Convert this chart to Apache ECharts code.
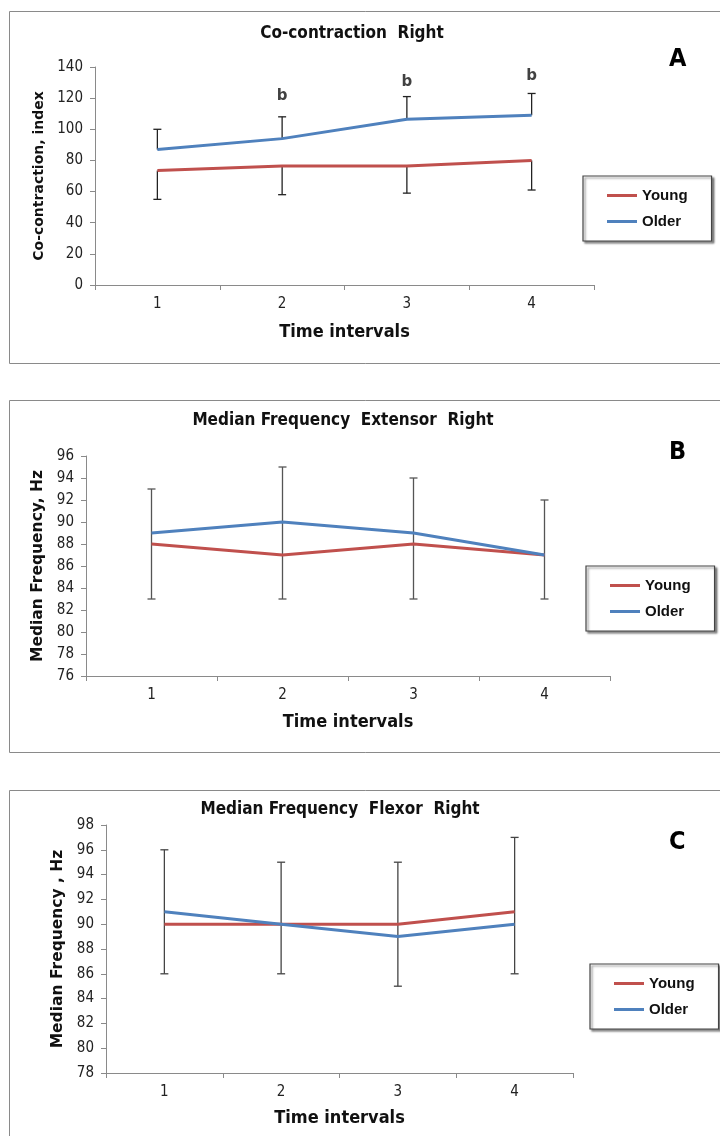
<!DOCTYPE html>
<html><head><meta charset="utf-8">
<script src="https://cdn.jsdelivr.net/npm/echarts@6/dist/echarts.min.js"></script>
<style>html,body{margin:0;padding:0;background:#fff}#c{width:720px;height:1136px}</style>
</head><body><div id="c"></div>
<script>
// ---------- data ----------
const categories = ['1', '2', '3', '4'];
const seriesNames = ['Young', 'Older'];
// Panel A: Co-contraction Right
const youngA = [73.5, 76.5, 76.5, 80];
const olderA = [87, 94, 106.5, 109];
const olderTopA = [100, 108, 121, 123];
const youngBottomA = [55, 58, 59, 61];
const bMarkCats = [1, 2, 3];
const bMarkValues = [121.5, 130.5, 134];
// Panel B: Median Frequency Extensor Right
const youngB = [88, 87, 88, 87];
const olderB = [89, 90, 89, 87];
const errHighB = [93, 95, 94, 92];
const errLowB = [83, 83, 83, 83];
// Panel C: Median Frequency Flexor Right
const youngC = [90, 90, 90, 91];
const olderC = [91, 90, 89, 90];
const errHighC = [96, 95, 95, 97];
const errLowC = [86, 86, 85, 86];

// ---------- styles ----------
const RED = '#C0504D', BLUE = '#4F81BD';
const NARROW = '"Liberation Sans Narrow", "DejaVu Sans Condensed", sans-serif';
const WIDE = '"DejaVu Sans", Verdana, sans-serif';

function errRender(color) {
  return function (params, api) {
    const x = api.value(0), v1 = api.value(1), v2 = api.value(2), capFrom = api.value(3);
    const p1 = api.coord([x, v1]), p2 = api.coord([x, v2]);
    const w = 4;
    const st = { stroke: color, lineWidth: 1.3 };
    const ch = [
      { type: 'line', shape: { x1: p1[0], y1: p1[1], x2: p2[0], y2: p2[1] }, style: st },
      { type: 'line', shape: { x1: p2[0] - w, y1: p2[1], x2: p2[0] + w, y2: p2[1] }, style: st }
    ];
    if (capFrom) ch.push({ type: 'line', shape: { x1: p1[0] - w, y1: p1[1], x2: p1[0] + w, y2: p1[1] }, style: st });
    return { type: 'group', children: ch };
  };
}

function xAxis(gi, gap) {
  return {
    type: 'category', gridIndex: gi, data: categories, boundaryGap: true,
    axisLine: { lineStyle: { color: '#8a8a8a', width: 1 } },
    axisTick: { show: true, length: 5, lineStyle: { color: '#8a8a8a' } },
    axisLabel: { color: '#222', fontFamily: NARROW, fontSize: 15, margin: 12 },
    name: 'Time intervals', nameLocation: 'middle', nameGap: gap,
    nameTextStyle: { fontFamily: NARROW, fontWeight: 'bold', fontSize: 18, color: '#111' }
  };
}
function yAxis(gi, min, max, interval, name, gap, fs) {
  return {
    type: 'value', gridIndex: gi, min, max, interval,
    axisLine: { show: true, lineStyle: { color: '#8a8a8a', width: 1 } },
    axisTick: { show: true, length: 5, lineStyle: { color: '#8a8a8a' } },
    splitLine: { show: false },
    axisLabel: { color: '#222', fontFamily: NARROW, fontSize: 15, margin: 12 },
    name, nameLocation: 'middle', nameGap: gap, nameRotate: 90,
    nameTextStyle: { fontFamily: WIDE, fontWeight: 'bold', fontSize: fs, color: '#111' }
  };
}
function legend(left, top) {
  return {
    orient: 'vertical', left, top, data: seriesNames, icon: 'rect',
    itemWidth: 30, itemHeight: 3, itemGap: 11, padding: [12, 24, 12, 24],
    borderColor: '#444', borderWidth: 1.2, backgroundColor: '#fff',
    shadowColor: 'rgba(0,0,0,0.45)', shadowBlur: 2, shadowOffsetX: 2, shadowOffsetY: 2,
    selectedMode: false,
    textStyle: { fontFamily: '"Liberation Sans", Arial, sans-serif', fontWeight: 'bold', fontSize: 15, color: '#111' }
  };
}
function line(name, data, color, gi) {
  return { type: 'line', name, data, xAxisIndex: gi, yAxisIndex: gi, symbol: 'none',
    lineStyle: { color, width: 3 }, itemStyle: { color }, z: 3, animation: false };
}
function errSeries(segs, color, gi) {
  return { type: 'custom', xAxisIndex: gi, yAxisIndex: gi, renderItem: errRender(color),
    data: segs, z: 2, animation: false, silent: true };
}

const errA = [];
categories.forEach((c, i) => {
  errA.push([i, olderA[i], olderTopA[i], 0]);
  errA.push([i, youngA[i], youngBottomA[i], 0]);
});
const errB = categories.map((c, i) => [i, errLowB[i], errHighB[i], 1]);
const errC = categories.map((c, i) => [i, errLowC[i], errHighC[i], 1]);

const titleStyle = { fontFamily: NARROW, fontWeight: 'bold', fontSize: 17, color: '#111' };
const letterStyle = { font: 'bold 25px "DejaVu Sans Condensed", sans-serif', fill: '#000', textAlign: 'center', textVerticalAlign: 'middle' };

const option = {
  animation: false,
  backgroundColor: '#fff',
  title: [
    { text: 'Co-contraction  Right', left: 347, top: 20, textAlign: 'center', textStyle: titleStyle },
    { text: 'Median Frequency  Extensor  Right', left: 338, top: 407, textAlign: 'center', textStyle: titleStyle },
    { text: 'Median Frequency  Flexor  Right', left: 335, top: 796, textAlign: 'center', textStyle: titleStyle }
  ],
  legend: [legend(583, 176), legend(586, 566), legend(590, 964)],
  grid: [
    { left: 95, top: 67, width: 499, height: 218 },
    { left: 86, top: 456, width: 524, height: 220 },
    { left: 106, top: 825, width: 467, height: 248 }
  ],
  xAxis: [xAxis(0, 38), xAxis(1, 37), xAxis(2, 36)],
  yAxis: [
    yAxis(0, 0, 140, 20, 'Co-contraction, index', 45, 14),
    yAxis(1, 76, 96, 2, 'Median Frequency, Hz', 40, 15.5),
    yAxis(2, 78, 98, 2, 'Median Frequency , Hz', 37, 15.5)
  ],
  graphic: [
    { type: 'rect', shape: { x: 9.5, y: 11.5, width: 720, height: 352 }, style: { fill: 'none', stroke: '#8a8a8a', lineWidth: 1 }, z: -10, silent: true },
    { type: 'rect', shape: { x: 9.5, y: 400.5, width: 720, height: 352 }, style: { fill: 'none', stroke: '#8a8a8a', lineWidth: 1 }, z: -10, silent: true },
    { type: 'rect', shape: { x: 9.5, y: 790.5, width: 720, height: 400 }, style: { fill: 'none', stroke: '#8a8a8a', lineWidth: 1 }, z: -10, silent: true },
    { type: 'text', left: 669, top: 47, style: Object.assign({ text: 'A' }, letterStyle) },
    { type: 'text', left: 669, top: 440, style: Object.assign({ text: 'B' }, letterStyle) },
    { type: 'text', left: 669, top: 830, style: Object.assign({ text: 'C' }, letterStyle) }
  ],
  series: [
    errSeries(errA, '#222', 0),
    line('Young', youngA, RED, 0),
    line('Older', olderA, BLUE, 0),
    { type: 'scatter', xAxisIndex: 0, yAxisIndex: 0, symbolSize: 0, silent: true, animation: false,
      data: bMarkCats.map((c, i) => [c, bMarkValues[i]]),
      label: { show: true, position: 'inside', formatter: 'b', fontFamily: WIDE, fontWeight: 'bold', fontSize: 15, color: '#111' } },
    errSeries(errB, '#555', 1),
    line('Young', youngB, RED, 1),
    line('Older', olderB, BLUE, 1),
    errSeries(errC, '#444', 2),
    line('Young', youngC, RED, 2),
    line('Older', olderC, BLUE, 2)
  ]
};
const chart = echarts.init(document.getElementById('c'), null, { renderer: 'canvas' });
chart.setOption(option);
</script></body></html>
